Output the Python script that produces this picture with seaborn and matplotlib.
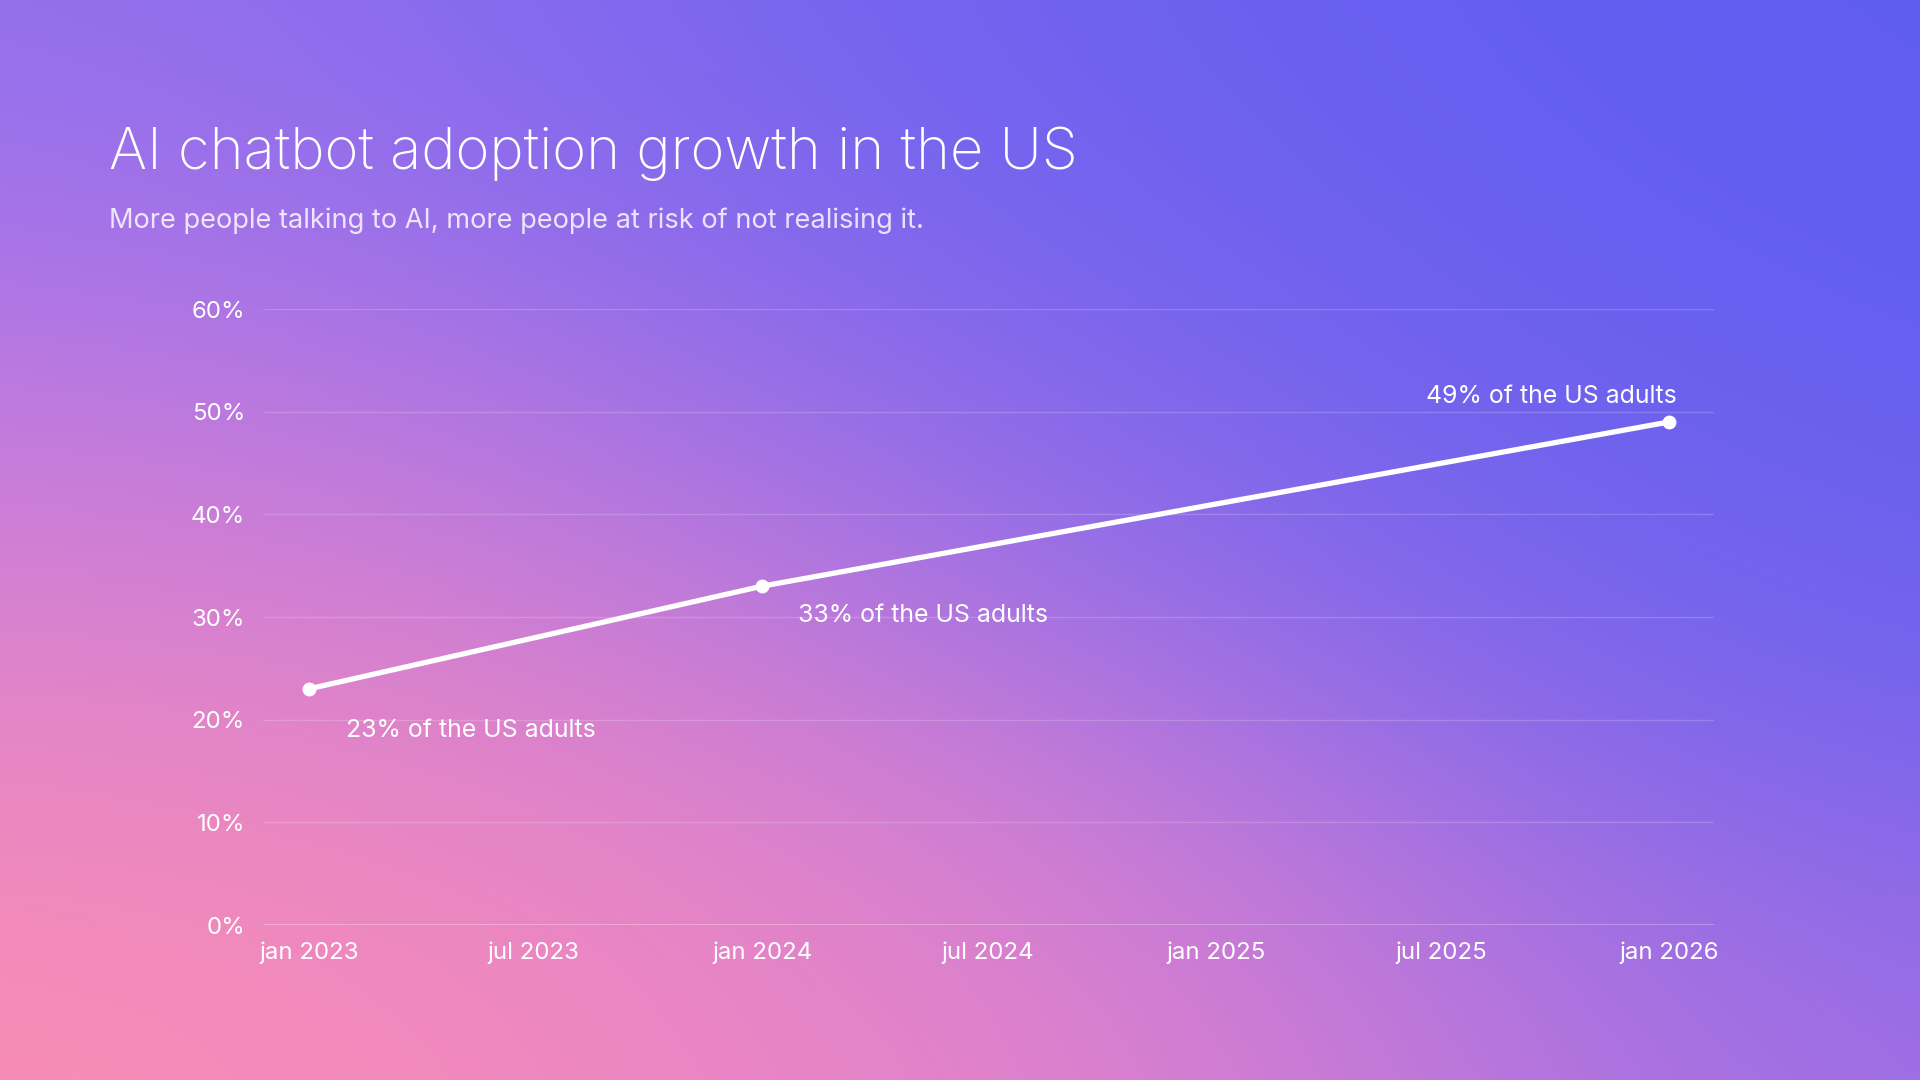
import numpy as np
import pandas as pd
import matplotlib
matplotlib.use("Agg")
import matplotlib.pyplot as plt
from matplotlib import font_manager as fm
from matplotlib.colors import to_rgb
from matplotlib.patches import Arc
import seaborn as sns

# ---------------- data ----------------
dates = ["2023-01-01", "2024-01-01", "2026-01-01"]
adoption = [23, 33, 49]
point_labels = ["23% of the US adults", "33% of the US adults", "49% of the US adults"]
tick_dates = ["2023-01-01", "2023-07-01", "2024-01-01", "2024-07-01",
              "2025-01-01", "2025-07-01", "2026-01-01"]
tick_labels = ["jan 2023", "jul 2023", "jan 2024", "jul 2024",
               "jan 2025", "jul 2025", "jan 2026"]
y_ticks = [0, 10, 20, 30, 40, 50, 60]
y_tick_labels = ["0%", "10%", "20%", "30%", "40%", "50%", "60%"]
title = "AI chatbot adoption growth in the US"
subtitle = "More people talking to AI, more people at risk of not realising it."

df = pd.DataFrame({"date": pd.to_datetime(dates), "adoption": adoption})

# ---------------- fonts ----------------
sns.set_theme(style="white")
entries = fm.fontManager.ttflist


def pick_weight(names, target):
    for n in names:
        cands = [f for f in entries if f.name == n and "italic" not in f.style
                 and isinstance(f.weight, int) and f.weight < 400]
        if cands:
            cands.sort(key=lambda f: abs(f.weight - target))
            return fm.FontProperties(fname=cands[0].fname)
    return None


title_fp = pick_weight(["Inter", "Roboto", "Lato", "Open Sans"], 200)
plt.rcParams["font.family"] = ["Inter", "DejaVu Sans"]

W, H = 1920, 1080
fig = plt.figure(figsize=(19.2, 10.8), dpi=100)

# ---------------- background gradient ----------------
anchors = [
    (0.0, 0.0, "#9270EE"), (0.5, 0.0, "#7A66F0"), (1.0, 0.0, "#5358F2"),
    (0.8, 0.0, "#5E5CF1"), (1.0, 0.3, "#5E5DF0"),
    (0.0, 0.5, "#C87BE0"), (0.5, 0.5, "#A373E7"), (1.0, 0.5, "#7063EE"),
    (0.0, 1.0, "#FF93A8"), (0.5, 1.0, "#E381CF"), (1.0, 1.0, "#9B6DE6"),
    (0.25, 0.85, "#F286C4"), (0.8, 0.2, "#6C62EF"), (0.08, 0.92, "#FC8EB3"),
]
gy, gx = np.mgrid[0:1:216j, 0:1:384j]
acc = np.zeros(gx.shape + (3,))
wsum = np.zeros(gx.shape)
for ax_, ay_, c in anchors:
    w = np.exp(-((gx - ax_) ** 2 + (gy - ay_) ** 2) / (2 * 0.25 ** 2))
    acc += w[..., None] * np.array(to_rgb(c))
    wsum += w
img = np.clip(acc / wsum[..., None], 0, 1)

bg = fig.add_axes([0, 0, 1, 1], zorder=-10)
bg.imshow(img, aspect="auto", extent=[0, W, H, 0], interpolation="bicubic")
bg.set_xlim(0, W)
bg.set_ylim(H, 0)
bg.axis("off")
# faint decorative arcs at the bottom
bg.add_patch(Arc((520, 1230), 1200, 420, theta1=0, theta2=180,
                 color="white", alpha=0.14, lw=2.5))
bg.add_patch(Arc((700, 1160), 1400, 260, theta1=0, theta2=180,
                 color="white", alpha=0.10, lw=2.5))

# ---------------- chart ----------------
ax = fig.add_axes([263 / W, 1 - 925 / H, (1714 - 263) / W, (925 - 309) / H])
ax.set_facecolor("none")
sns.lineplot(data=df, x="date", y="adoption", ax=ax, color="white",
             linewidth=3.8, marker="o", markersize=10, markeredgewidth=0,
             zorder=5)

ax.set_xlim(pd.Timestamp("2022-11-25"), pd.Timestamp("2026-02-06"))
ax.set_ylim(0, 60)
ax.set_xticks(pd.to_datetime(tick_dates))
ax.set_xticklabels(tick_labels)
ax.set_yticks(y_ticks)
ax.set_yticklabels(y_tick_labels)
ax.set_xlabel("")
ax.set_ylabel("")
ax.tick_params(axis="both", length=0, labelcolor="white", labelsize=17.3)
ax.tick_params(axis="y", pad=13)
ax.tick_params(axis="x", pad=12)
ax.grid(axis="y", color="white", alpha=0.18, linewidth=1)
ax.grid(axis="x", visible=False)
for s in ax.spines.values():
    s.set_visible(False)
ax.axhline(0, color="white", alpha=0.3, linewidth=1.2, zorder=1)

offsets = [(37, -48, "left"), (36, -36, "left"), (7, 19, "right")]
for d, v, lab, (dx, dy, ha) in zip(df["date"], adoption, point_labels, offsets):
    ax.annotate(lab, xy=(d, v), xytext=(dx, dy), textcoords="offset pixels",
                ha=ha, va="baseline", color="white", fontsize=17.9)

# ---------------- titles ----------------
if title_fp is not None:
    title_fp.set_size(41.7)
    fig.text(109 / W, 1 - 169 / H, title, color="white", va="baseline",
             ha="left", fontproperties=title_fp)
else:
    fig.text(109 / W, 1 - 169 / H, title, color="white", va="baseline",
             ha="left", fontsize=41.7, fontweight="light")
fig.text(109 / W, 1 - 228 / H, subtitle, color="white", alpha=0.82,
         fontsize=19.6, va="baseline", ha="left")

fig.savefig("out.png", dpi=100)
